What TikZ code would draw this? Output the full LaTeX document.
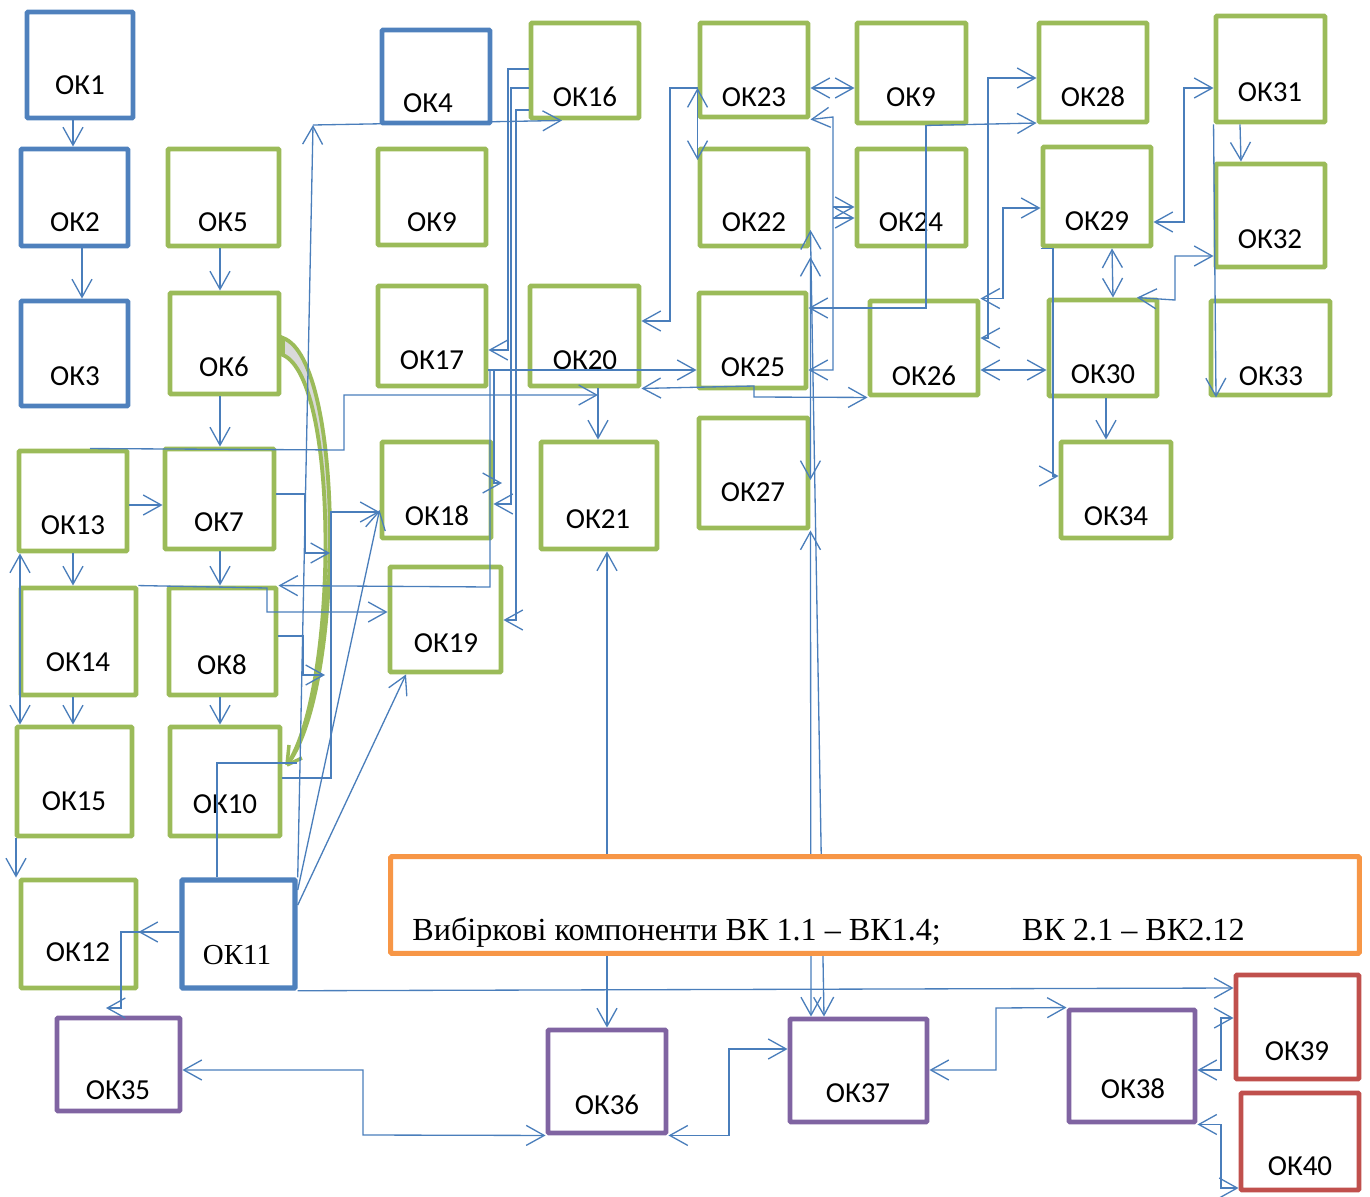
\documentclass[tikz,border=0pt]{standalone}
\usepackage{fontspec}
\setmainfont{Carlito}
\newfontfamily\tnr{Liberation Serif}
\usetikzlibrary{arrows.meta,fit}
\definecolor{okblue}{HTML}{4F81BD}
\definecolor{okgreen}{HTML}{9BBB59}
\definecolor{okpurple}{HTML}{8064A2}
\definecolor{okred}{HTML}{C0504D}
\definecolor{okorange}{HTML}{F79646}
\definecolor{linkblue}{HTML}{4A7EBB}
\begin{document}
\begin{tikzpicture}[x=0.02cm,y=-0.02cm,
    okbox/.style={draw, line width=2.8pt, inner sep=0pt, rounded corners=0.6pt},
    bbox/.style={okbox, draw=okblue},
    gbox/.style={okbox, draw=okgreen},
    pbox/.style={okbox, draw=okpurple},
    rbox/.style={okbox, draw=okred},
    lab/.style={inner sep=0pt, font=\fontsize{16.5}{18}\selectfont},
    >={Straight Barb[length=0.36cm,width=0.4cm]}]
  \useasboundingbox (0,0) rectangle (1370,1197);
  % boxes
  \node[bbox, fit={(27,12) (133,118)}] (ok1) {};
  \node[bbox, fit={(21,149) (128,246)}] (ok2) {};
  \node[bbox, fit={(21,301) (128,406)}] (ok3) {};
  \node[bbox, fit={(382,30) (490,123)}] (ok4) {};
  \node[gbox, fit={(168,149) (279,246)}] (ok5) {};
  \node[gbox, fit={(170,293) (279,394)}] (ok6) {};
  \node[gbox, fit={(378,149) (486,245)}] (ok9l) {};
  \node[gbox, fit={(531,23) (639,118)}] (ok16) {};
  \node[gbox, fit={(378,286) (486,386)}] (ok17) {};
  \node[gbox, fit={(530,286) (639,386)}] (ok20) {};
  \node[gbox, fit={(700,23) (808,117)}] (ok23) {};
  \node[gbox, fit={(857,23) (966,123)}] (ok9r) {};
  \node[gbox, fit={(700,149) (808,246)}] (ok22) {};
  \node[gbox, fit={(857,149) (966,246)}] (ok24) {};
  \node[gbox, fit={(699,293) (806,388)}] (ok25) {};
  \node[gbox, fit={(870,301) (978,395)}] (ok26) {};
  \node[gbox, fit={(1039,23) (1147,122)}] (ok28) {};
  \node[gbox, fit={(1043,147) (1151,246)}] (ok29) {};
  \node[gbox, fit={(1216,16) (1325,122)}] (ok31) {};
  \node[gbox, fit={(1216,164) (1325,267)}] (ok32) {};
  \node[gbox, fit={(1049,300) (1157,396)}] (ok30) {};
  \node[gbox, fit={(1211,301) (1330,395)}] (ok33) {};
  \node[gbox, fit={(1061,442) (1171,538)}] (ok34) {};
  \node[gbox, fit={(19,451) (127,551)}] (ok13) {};
  \node[gbox, fit={(165,449) (274,549)}] (ok7) {};
  \node[gbox, fit={(382,442) (491,538)}] (ok18) {};
  \node[gbox, fit={(541,442) (657,549)}] (ok21) {};
  \node[gbox, fit={(699,418) (808,528)}] (ok27) {};
  \node[gbox, fit={(21,588) (136,695)}] (ok14) {};
  \node[gbox, fit={(169,588) (276,695)}] (ok8) {};
  \node[gbox, fit={(390,567) (501,672)}] (ok19) {};
  \node[gbox, fit={(17,727) (132,836)}] (ok15) {};
  \node[gbox, fit={(170,727) (280,836)}] (ok10) {};
  \node[gbox, fit={(21,880) (136,988)}] (ok12) {};
  \node[bbox, line width=3.1pt, fit={(182,880) (295,988)}] (ok11) {};
  \node[pbox, fit={(57,1018) (180,1111)}] (ok35) {};
  \node[pbox, fit={(548,1030) (666,1133)}] (ok36) {};
  \node[pbox, fit={(790,1019) (927,1122)}] (ok37) {};
  \node[pbox, fit={(1069,1010) (1195,1122)}] (ok38) {};
  \node[rbox, fit={(1236,975) (1359,1079)}] (ok39) {};
  \node[rbox, fit={(1241,1093) (1359,1190)}] (ok40) {};
  \node[inner sep=0pt, fit={(391,857) (1359,953)}] (vk) {};
  % labels
  \node[lab] (ok1t) at (80,85) {ОК1};
  \node[lab] (ok2t) at (75,222) {ОК2};
  \node[lab] (ok3t) at (75,376) {ОК3};
  \node[lab] (ok4t) at (428,103) {ОК4};
  \node[lab] (ok5t) at (223,222) {ОК5};
  \node[lab] (ok6t) at (224,367) {ОК6};
  \node[lab] (ok9lt) at (432,222) {ОК9};
  \node[lab] (ok16t) at (585,97) {ОК16};
  \node[lab] (ok17t) at (432,360) {ОК17};
  \node[lab] (ok20t) at (585,360) {ОК20};
  \node[lab] (ok23t) at (754,97) {ОК23};
  \node[lab] (ok9rt) at (911,97) {ОК9};
  \node[lab] (ok22t) at (754,222) {ОК22};
  \node[lab] (ok24t) at (911,222) {ОК24};
  \node[lab] (ok25t) at (753,367) {ОК25};
  \node[lab] (ok26t) at (924,376) {ОК26};
  \node[lab] (ok28t) at (1093,97) {ОК28};
  \node[lab] (ok29t) at (1097,221) {ОК29};
  \node[lab] (ok31t) at (1270,92) {ОК31};
  \node[lab] (ok32t) at (1270,239) {ОК32};
  \node[lab] (ok30t) at (1103,374) {ОК30};
  \node[lab] (ok33t) at (1271,376) {ОК33};
  \node[lab] (ok34t) at (1116,516) {ОК34};
  \node[lab] (ok13t) at (73,525) {ОК13};
  \node[lab] (ok7t) at (219,522) {ОК7};
  \node[lab] (ok18t) at (437,516) {ОК18};
  \node[lab] (ok21t) at (598,519) {ОК21};
  \node[lab] (ok27t) at (753,492) {ОК27};
  \node[lab] (ok14t) at (78,662) {ОК14};
  \node[lab] (ok8t) at (222,665) {ОК8};
  \node[lab] (ok19t) at (446,643) {ОК19};
  \node[lab] (ok15t) at (74,801) {ОК15};
  \node[lab] (ok10t) at (225,804) {ОК10};
  \node[lab] (ok12t) at (78,952) {ОК12};
  \node[lab, font=\tnr\fontsize{16.5}{18}\selectfont] (ok11t) at (237,955) {ОК11};
  \node[lab] (ok35t) at (118,1090) {ОК35};
  \node[lab] (ok36t) at (607,1105) {ОК36};
  \node[lab] (ok37t) at (858,1093) {ОК37};
  \node[lab] (ok38t) at (1133,1089) {ОК38};
  \node[lab] (ok39t) at (1297,1051) {ОК39};
  \node[lab] (ok40t) at (1300,1166) {ОК40};
  \coordinate (c35) at (106,1008);
  % curved link 6 -> 10
  \draw[okgreen, line width=2.2pt, fill=gray!30] (283,338) .. controls (345,360) and (345,690) .. (287,765)
    .. controls (338,690) and (340,380) .. (283,355) -- cycle;
  \draw[okgreen, line width=2pt] (287,765) -- (289,745) (287,765) -- (302,758);
  \begin{scope}[draw=linkblue, line width=0.75pt]
    % left part
    \draw[->] (ok1.south -| 73,0) -- (ok2.north -| 73,0);
    \draw[->] (ok2.south -| 82,0) -- (ok3.north -| 82,0);
    \draw[->] (ok5.south -| 220,0) -- (ok6.north -| 220,0);
    \draw[->] (ok6.south -| 220,0) -- (ok7.north -| 220,0);
    \draw[->] (ok7.south -| 220,0) -- (ok8.north -| 220,0);
    \draw[->] (ok8.south -| 220,0) -- (ok10.north -| 220,0);
    \draw[->] (ok13.east |- 0,505) -- (ok7.west |- 0,505);
    \draw[->] (ok13.south -| 73,0) -- (ok14.north -| 73,0);
    \draw[->] (ok14.south -| 73,0) -- (ok15.north -| 73,0);
    \draw[<->] (ok13.south -| 20,0) -- (ok15.north -| 20,0);
    \draw[->] (ok15.south -| 16,0) -- (ok12.north -| 16,0);
    \draw[->] (ok11.west |- 0,932) -- (ok12.east |- 0,932);
    \draw[->] (ok11.west |- 0,932) -- (121,932) -- (121,1008) -- (c35);
    \draw (ok11.north -| 217,0) |- (297,763);
    \draw[->] (ok11.north east) -- (313,125);
    \draw[->] (313,125) -- (ok16.south -| 562,0);
    \draw[->] (ok7.east |- 0,494) -| (305,553) -- (330,553);
    \draw[->] (ok8.east |- 0,636) -| (303,675) -- (325,675);
    \draw[->] (ok10.east |- 0,778) -| (331,512) -- (ok18.west |- 0,512);
    \draw[->] (ok13.north -| 90,0) -- (344,450) -- (344,395) -- (598,395);
    \draw[->] (ok20.south -| 598,0) -- (ok21.north -| 598,0);
    \draw[->] (ok14.north east) -- (267,588) -- (267,612) -- (ok19.west |- 0,612);
    \draw[->] (ok11.east |- 0,890) -- (ok18.west |- 0,510);
    \draw[->] (ok11.east |- 0,905) -- (ok19.south -| 406,0);
    % middle part
    \draw[->] (ok17.east |- 0,370) -| (490,587) -- (ok8.north east);
    \draw[->] (ok17.east |- 0,370) -| (494,483) -- (502,483);
    \draw[->] (ok17.east |- 0,370) -- (ok25.west |- 0,370);
    \draw[->] (ok16.west |- 0,69) -| (508,350) -- (ok17.east |- 0,350);
    \draw[->] (ok16.west |- 0,88) -| (511,504) -- (ok18.east |- 0,504);
    \draw[->] (ok16.west |- 0,110) -| (516,620) -- (ok19.east |- 0,620);
    \draw[->] (ok23.west |- 0,88) -- (670,88) -- (670,321) -- (ok20.east |- 0,321);
    \draw[<->] (ok23.west |- 0,88) -- (ok22.north west |- 0,160);
    \draw[<->] (ok23.east |- 0,88) -- (ok9r.west |- 0,88);
    \draw[<->] (ok23.south east) -- (833,117) -- (833,370) -- (ok25.east |- 0,370);
    \draw[->] (833,207) -- (ok24.west |- 0,207);
    \draw[->] (833,218) -- (ok24.west |- 0,218);
    \draw[->] (ok9r.south -| 926,0) -- (ok28.west |- 0,123);
    \draw[->] (ok9r.south -| 926,0) -- (926,308) -- (ok25.east |- 0,308);
    \draw[<->] (ok20.south east) -- (754,386) -- (754,397) -- (ok26.south west);
    \draw[<->] (ok22.east |- 0,230) -- (ok37.north -| 824,0);
    \draw[<->] (ok22.east |- 0,257) -- (ok27.east |- 0,480);
    \draw[<->] (ok27.south east) -- (ok37.north -| 811,0);
    % right part
    \draw[<->] (ok26.north east) -| (1003,208) -- (ok29.west |- 0,208);
    \draw[<->] (ok26.east |- 0,338) -| (988,78) -- (ok28.west |- 0,78);
    \draw[<->] (ok26.east |- 0,370) -- (ok30.west |- 0,370);
    \draw[<->] (ok29.east |- 0,222) -| (1184,88) -- (ok31.west |- 0,88);
    \draw[<->] (ok29.south -| 1112,0) -- (ok30.north -| 1113,0);
    \draw[<->] (ok30.north -| 1137,0) -- (1175,300) |- (ok32.west |- 0,256);
    \draw[->] (ok31.south -| 1240,0) -- (ok32.north -| 1241,0);
    \draw[->] (ok31.south west) -- (ok33.south -| 1216,0);
    \draw[->] (ok29.south west) -| (1053,476) -- (ok34.west |- 0,476);
    \draw[->] (ok30.south -| 1106,0) -- (ok34.north -| 1106,0);
    % bottom part
    \draw[->] (ok11.south east) -- (ok39.west |- 0,988);
    \draw[->] (vk.north -| 607,0) -- (ok21.south -| 607,0);
    \draw[->] (vk.south -| 607,0) -- (ok36.north -| 607,0);
    \draw[<->] (ok35.east |- 0,1070) -| (363,1135) -- (ok36.south west);
    \draw[<->] (ok36.south east) -| (729,1049) -- (ok37.west |- 0,1049);
    \draw[<->] (ok37.east |- 0,1070) -| (996,1008) -- (ok38.north west);
    \draw[<->] (ok38.east |- 0,1070) -| (1221,1018) -- (ok39.west |- 0,1018);
    \draw[<->] (ok38.south east) -| (1221,1188) -- (ok40.west |- 0,1188);
  \end{scope}
  % elective block on top of the links
  \draw[okorange, line width=2.8pt, fill=white, rounded corners=0.6pt] (vk.south west) rectangle (vk.north east);
  \node[inner sep=0pt, anchor=base west, font=\tnr\fontsize{18.3}{21}\selectfont] (vkt) at (412,940)
    {\makebox[12.2cm][l]{Вибіркові компоненти ВК 1.1 – ВК1.4;}ВК 2.1 – ВК2.12};
\end{tikzpicture}
\end{document}
